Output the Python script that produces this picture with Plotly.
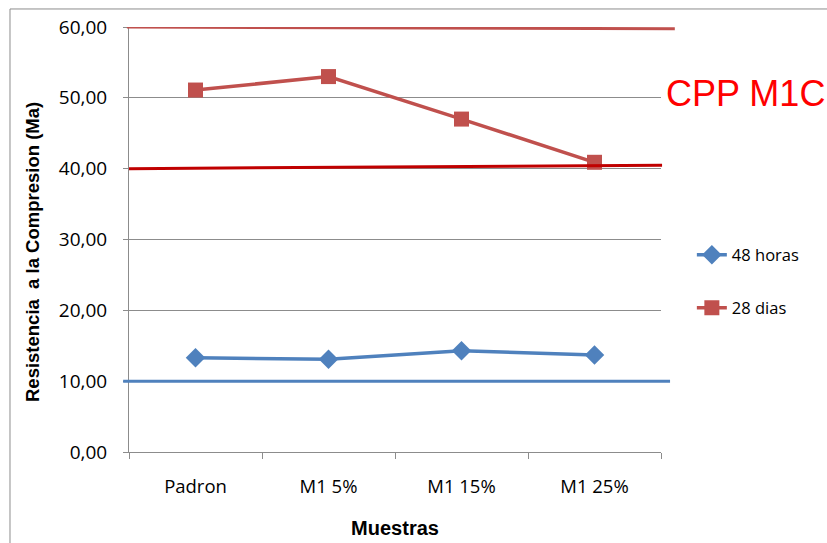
import plotly.graph_objects as go

# Compression strength by sample
muestras = ["Padron", "M1 5%", "M1 15%", "M1 25%"]
horas_48 = [13.3, 13.1, 14.3, 13.7]
dias_28 = [51.1, 53.0, 47.0, 40.9]

# Reference limits: (value at left, value at right)
limite_sup = [60.0, 59.75]
limite_med = [40.0, 40.5]
limite_inf = [10.0, 10.0]

y_ticks = [0, 10, 20, 30, 40, 50, 60]

AZUL = "#4F81BD"
ROJO = "#C0504D"
ROJO_OSC = "#C00000"
GRIS = "#8C8C8C"
FUENTE = "Open Sans"

fig = go.Figure()

fig.add_trace(go.Scatter(
    x=muestras, y=horas_48, name="48 horas", mode="lines+markers",
    line=dict(color=AZUL, width=3.5),
    marker=dict(symbol="diamond", size=15, color=AZUL),
    legend="legend",
))
fig.add_trace(go.Scatter(
    x=muestras, y=dias_28, name="28 dias", mode="lines+markers",
    line=dict(color=ROJO, width=3.5),
    marker=dict(symbol="square", size=15, color=ROJO),
    legend="legend2",
))

# Horizontal limit lines (x in paper units, y in data units)
fig.add_shape(type="line", xref="paper", yref="y", x0=-0.004, x1=1.026,
              y0=limite_sup[0], y1=limite_sup[1], line=dict(color=ROJO, width=3))
fig.add_shape(type="line", xref="paper", yref="y", x0=0.0, x1=1.002,
              y0=limite_med[0], y1=limite_med[1], line=dict(color=ROJO_OSC, width=3))
fig.add_shape(type="line", xref="paper", yref="y", x0=-0.011, x1=1.017,
              y0=limite_inf[0], y1=limite_inf[1], line=dict(color=AZUL, width=3))

# Chart-area frame
fig.add_shape(type="rect", xref="paper", yref="paper",
              x0=-0.2237, x1=1.4, y0=-0.3, y1=1.0424,
              line=dict(color=GRIS, width=1), fillcolor="rgba(0,0,0,0)", layer="below")

fig.add_annotation(
    text="CPP M1C", xref="paper", yref="paper", x=1.0057, y=(452 - 94) / 425,
    xanchor="left", yanchor="middle", showarrow=False,
    font=dict(family="Liberation Sans", size=36, color="#FF0000"),
)

# Vertical axis title, set slightly below the plot's mid-height
fig.add_annotation(
    text="<b>Resistencia  a la Compresion (Ma)</b>", textangle=-90,
    xref="paper", yref="paper", x=(32 - 129) / 532, y=(452 - 252) / 425,
    xanchor="center", yanchor="middle", showarrow=False,
    font=dict(family="Liberation Sans", size=18.5, color="#000000"),
)

fig.update_layout(
    width=827, height=543,
    margin=dict(l=129, r=166, t=27, b=91, autoexpand=False),
    paper_bgcolor="white", plot_bgcolor="white",
    separators=",.",
    font=dict(family=FUENTE, size=17, color="#000000"),
    showlegend=True,
    legend=dict(x=1.058, y=(452 - 255) / 425, xanchor="left", yanchor="middle",
                bgcolor="rgba(0,0,0,0)", font=dict(family=FUENTE, size=16.5)),
    legend2=dict(x=1.058, y=(452 - 308) / 425, xanchor="left", yanchor="middle",
                 bgcolor="rgba(0,0,0,0)", font=dict(family=FUENTE, size=16.5)),
    xaxis=dict(
        type="category", range=[-0.5, 3.5], tickson="boundaries",
        showgrid=False, showline=True, linecolor=GRIS, linewidth=1,
        ticks="outside", ticklen=6, tickcolor=GRIS,
        tickfont=dict(family=FUENTE, size=18.5),
        ticklabelstandoff=18, automargin=False,
        title=dict(text="<b>Muestras</b>", standoff=23,
                   font=dict(family="Liberation Sans", size=20)),
    ),
    yaxis=dict(
        range=[0, 60], tickvals=y_ticks, tickformat=".2f",
        showgrid=True, gridcolor=GRIS, gridwidth=1,
        showline=True, linecolor=GRIS, linewidth=1,
        ticks="outside", ticklen=5, tickcolor=GRIS,
        tickfont=dict(family=FUENTE, size=19),
        ticklabelstandoff=12, automargin=False,
        zeroline=False,
    ),
)

fig.write_html("out.html")
